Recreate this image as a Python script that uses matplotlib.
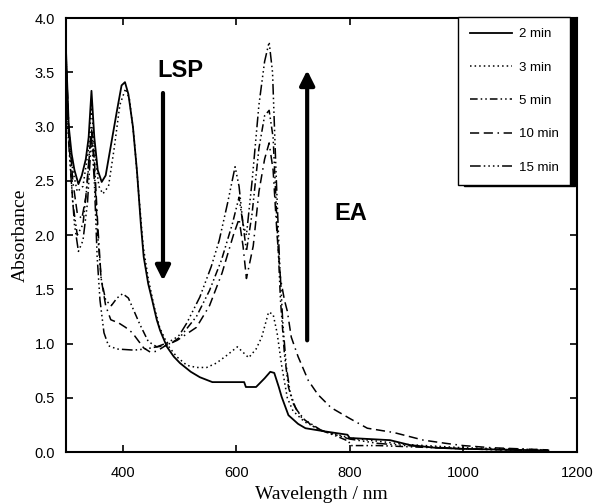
import numpy as np
import matplotlib.pyplot as plt
from matplotlib.ticker import FormatStrFormatter

# Absorbance spectra
wl_2 = [300, 305, 310, 315, 322, 328, 335, 340, 345, 350, 356, 363, 370, 380, 390, 398, 404,
        410, 418, 425, 432, 437, 445, 452, 460, 466, 478, 490, 501, 520, 536, 558, 614, 617,
        635, 650, 660, 667, 675, 680, 692, 709, 722, 757, 796, 800, 871, 906, 950, 1000, 1100, 1150]
ab_2 = [3.72, 3.0, 2.75, 2.6, 2.47, 2.55, 2.7, 2.9, 3.33, 2.9, 2.6, 2.49, 2.55, 2.85, 3.15, 3.38, 3.41,
        3.3, 3.0, 2.6, 2.1, 1.8, 1.55, 1.40, 1.22, 1.12, 0.97, 0.88, 0.82, 0.74, 0.69, 0.645, 0.645, 0.60,
        0.60, 0.68, 0.74, 0.73, 0.60, 0.51, 0.34, 0.26, 0.22, 0.19, 0.16, 0.13, 0.11, 0.065, 0.04, 0.03, 0.02, 0.015]

wl_3 = [300, 305, 312, 320, 330, 340, 345, 350, 358, 365, 375, 385, 395, 405, 412, 420, 428, 436,
        445, 455, 465, 480, 495, 513, 530, 548, 565, 583, 602, 612, 622, 635, 645, 657, 665, 672,
        680, 690, 700, 720, 750, 800, 850, 900, 1000, 1150]
ab_3 = [3.6, 2.9, 2.6, 2.4, 2.45, 2.8, 3.2, 2.8, 2.45, 2.38, 2.45, 2.8, 3.2, 3.35, 3.25, 2.9, 2.4, 1.9,
        1.6, 1.35, 1.15, 0.98, 0.88, 0.80, 0.78, 0.78, 0.82, 0.89, 0.97, 0.92, 0.87, 0.95, 1.06, 1.29, 1.27, 1.1,
        0.8, 0.5, 0.38, 0.28, 0.2, 0.13, 0.1, 0.07, 0.04, 0.02]

wl_5 = [300, 305, 312, 320, 330, 338, 345, 350, 356, 362, 370, 380, 390, 400, 410, 420, 430, 445,
        460, 475, 490, 501, 530, 553, 574, 593, 605, 612, 618, 628, 640, 650, 658, 665, 672, 678,
        685, 692, 700, 715, 740, 780, 798, 802, 850, 900, 1000, 1150]
ab_5 = [3.7, 2.9, 2.3, 2.0, 2.1, 2.5, 3.0, 2.6, 2.0, 1.6, 1.4, 1.35, 1.42, 1.46, 1.42, 1.3, 1.18, 1.02,
        0.97, 0.98, 1.02, 1.06, 1.25, 1.49, 1.77, 2.1, 2.35, 2.1, 1.85, 2.2, 2.8, 3.1, 3.15, 2.9, 2.1, 1.4,
        0.9, 0.6, 0.45, 0.32, 0.22, 0.14, 0.1, 0.06, 0.06, 0.05, 0.03, 0.01]

wl_10 = [300, 305, 312, 320, 328, 335, 342, 346, 350, 356, 362, 370, 379, 393, 405, 417, 437, 449,
         460, 475, 496, 530, 553, 575, 595, 605, 612, 618, 630, 640, 650, 658, 665, 672, 678, 685,
         690, 697, 709, 727, 744, 767, 800, 831, 878, 930, 970, 1000, 1050, 1150]
ab_10 = [3.65, 3.0, 2.5, 2.2, 2.15, 2.35, 2.8, 2.95, 2.7, 2.1, 1.6, 1.35, 1.22, 1.19, 1.15, 1.1, 0.96, 0.92,
         0.93, 0.98, 1.03, 1.15, 1.35, 1.65, 2.0, 2.15, 1.9, 1.6, 1.9, 2.4, 2.7, 2.85, 2.6, 2.0, 1.6, 1.4,
         1.3, 1.06, 0.88, 0.66, 0.53, 0.41, 0.31, 0.22, 0.18, 0.11, 0.08, 0.06, 0.04, 0.02]

wl_15 = [300, 303, 308, 315, 322, 330, 338, 345, 350, 355, 360, 367, 375, 390, 420, 440, 460, 475,
         490, 500, 513, 536, 556, 570, 585, 598, 605, 612, 618, 628, 640, 650, 658, 664, 670, 676,
         682, 688, 695, 705, 720, 750, 800, 850, 900, 1000, 1150]
ab_15 = [3.75, 3.0, 2.6, 2.1, 1.85, 1.95, 2.3, 2.9, 2.5, 1.8, 1.4, 1.1, 0.98, 0.95, 0.94, 0.95, 0.97, 1.0,
         1.04, 1.08, 1.19, 1.43, 1.71, 1.95, 2.3, 2.63, 2.45, 2.1, 2.0, 2.5, 3.2, 3.6, 3.78, 3.5, 2.6, 1.8,
         1.2, 0.8, 0.55, 0.4, 0.3, 0.2, 0.12, 0.08, 0.06, 0.03, 0.01]

labels = ["2 min", "3 min", "5 min", "10 min", "15 min"]

fig = plt.figure(figsize=(5.94, 5.04), dpi=100)
ax = fig.add_axes([0.111, 0.103, 0.860, 0.861])

ax.plot(wl_2, ab_2, color="k", lw=1.3, ls="-", label=labels[0])
ax.plot(wl_3, ab_3, color="k", lw=1.1, ls=(0, (1, 2)), label=labels[1])
ax.plot(wl_5, ab_5, color="k", lw=1.1, ls=(0, (5, 2, 1, 2, 1, 2)), label=labels[2])
ax.plot(wl_10, ab_10, color="k", lw=1.1, ls=(0, (6, 3, 6, 3, 1, 3)), label=labels[3])
ax.plot(wl_15, ab_15, color="k", lw=1.1, ls=(0, (7, 2, 1, 2, 1, 2, 1, 2, 1, 2)), label=labels[4])

ax.set_xlim(300, 1200)
ax.set_ylim(0, 4)
ax.set_xticks([400, 600, 800, 1000, 1200])
ax.set_yticks(np.arange(0, 4.01, 0.5))
ax.yaxis.set_major_formatter(FormatStrFormatter("%.1f"))
ax.tick_params(direction="in", length=5, width=1.2, top=True, right=True, labelsize=10.5)
ax.tick_params(axis="x", pad=10)
ax.tick_params(axis="y", pad=8)
for lab in ax.get_xticklabels() + ax.get_yticklabels():
    lab.set_family("Liberation Sans")
for sp in ax.spines.values():
    sp.set_linewidth(1.5)

ax.set_xlabel("Wavelength / nm", family="Liberation Serif", fontsize=14, labelpad=4)
ax.set_ylabel("Absorbance", family="Liberation Serif", fontsize=14, labelpad=4)

# arrows and annotations
ax.annotate("", xy=(471, 1.58), xytext=(471, 3.31),
            arrowprops=dict(arrowstyle="-|>", lw=3, color="k", mutation_scale=22, shrinkA=0, shrinkB=0))
ax.annotate("", xy=(725, 3.52), xytext=(725, 1.03),
            arrowprops=dict(arrowstyle="-|>", lw=3, color="k", mutation_scale=22, shrinkA=0, shrinkB=0))
ax.text(502, 3.52, "LSP", family="Liberation Sans", fontweight="bold", fontsize=17, ha="center", va="center")
ax.text(802, 2.2, "EA", family="Liberation Sans", fontweight="bold", fontsize=17, ha="center", va="center")

leg = ax.legend(loc="upper right", bbox_to_anchor=(0.986, 1.003), frameon=True, fancybox=False,
                edgecolor="k", framealpha=1, handlelength=3.2, labelspacing=1.6, borderpad=0.85,
                handletextpad=0.5, borderaxespad=0,
                prop={"family": "Liberation Sans", "size": 9.5},
                shadow={"ox": 4, "oy": -1, "color": "k", "alpha": 1})
leg.get_frame().set_linewidth(1.0)

fig.savefig("out.png", dpi=100)
